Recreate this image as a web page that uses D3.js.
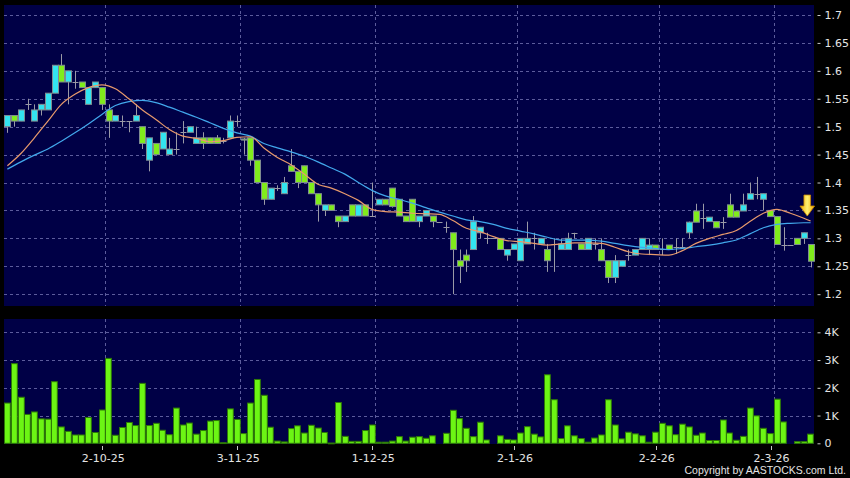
<!DOCTYPE html>
<html>
<head>
<meta charset="utf-8">
<script src="https://cdn.jsdelivr.net/npm/d3@7"></script>
<style>
  body { margin: 0; background: #000; }
  text { font-family: "DejaVu Sans", sans-serif; }
</style>
</head>
<body>
<script>
// daily candles, 10-9-25 .. 9-3-26 (120 sessions)
var opens  = [1.50,1.52,1.51,1.54,1.51,1.53,1.53,1.56,1.61,1.58, 1.58,1.58,1.54,1.57,1.57,1.53,1.51,1.51,1.51,1.51,
              1.50,1.44,1.47,1.46,1.45,1.46,1.49,1.49,1.47,1.48, 1.48,1.48,1.475,1.48,1.51,1.478,1.48,1.44,1.40,1.37,
              1.39,1.38,1.43,1.42,1.43,1.40,1.38,1.35,1.36,1.34, 1.33,1.36,1.34,1.36,1.34,1.36,1.37,1.39,1.37,1.34,
              1.37,1.33,1.34,1.34,1.33,1.32,1.31,1.26,1.27,1.28, 1.31,1.30,1.30,1.30,1.27,1.28,1.26,1.29,1.30,1.29,
              1.28,1.29,1.28,1.28,1.31,1.29,1.28,1.29,1.28,1.26, 1.23,1.25,1.27,1.27,1.28,1.28,1.288,1.281,1.288,1.285,
              1.285,1.31,1.349,1.337,1.33,1.33,1.33,1.36,1.349,1.349, 1.37,1.38,1.37,1.35,1.339,1.289,1.289,1.30,1.30,1.289];
var highs  = [1.52,1.52,1.53,1.55,1.54,1.54,1.56,1.61,1.63,1.60, 1.60,1.58,1.57,1.58,1.57,1.54,1.52,1.52,1.51,1.54,
              1.50,1.48,1.47,1.49,1.48,1.49,1.51,1.50,1.50,1.49, 1.48,1.485,1.48,1.52,1.52,1.48,1.48,1.44,1.40,1.39,
              1.395,1.41,1.46,1.42,1.43,1.40,1.38,1.36,1.36,1.34, 1.34,1.36,1.36,1.36,1.40,1.37,1.37,1.39,1.37,1.34,
              1.37,1.34,1.35,1.34,1.33,1.33,1.31,1.28,1.28,1.34, 1.32,1.31,1.30,1.30,1.28,1.29,1.30,1.33,1.31,1.30,
              1.29,1.30,1.30,1.31,1.31,1.29,1.30,1.30,1.30,1.26, 1.27,1.26,1.28,1.28,1.30,1.30,1.288,1.30,1.288,1.30,
              1.30,1.33,1.362,1.362,1.338,1.33,1.338,1.38,1.349,1.38, 1.40,1.41,1.38,1.35,1.339,1.32,1.289,1.30,1.31,1.289];
var lows   = [1.489,1.50,1.51,1.53,1.51,1.52,1.53,1.56,1.58,1.54, 1.568,1.57,1.54,1.57,1.53,1.48,1.51,1.50,1.49,1.51,
              1.46,1.42,1.45,1.46,1.45,1.45,1.47,1.49,1.47,1.46, 1.47,1.47,1.47,1.48,1.50,1.45,1.43,1.40,1.36,1.37,
              1.385,1.38,1.42,1.39,1.40,1.38,1.33,1.34,1.35,1.32, 1.33,1.34,1.34,1.34,1.34,1.36,1.36,1.355,1.34,1.33,
              1.33,1.32,1.34,1.32,1.33,1.31,1.20,1.22,1.24,1.28, 1.30,1.29,1.30,1.28,1.26,1.28,1.26,1.29,1.28,1.29,
              1.24,1.24,1.28,1.28,1.30,1.28,1.28,1.28,1.26,1.22, 1.22,1.25,1.26,1.27,1.28,1.27,1.28,1.27,1.28,1.272,
              1.281,1.30,1.329,1.317,1.33,1.319,1.317,1.338,1.338,1.349, 1.37,1.37,1.35,1.339,1.289,1.278,1.289,1.289,1.29,1.248];
var closes = [1.52,1.51,1.53,1.54,1.53,1.54,1.56,1.61,1.58,1.60, 1.58,1.57,1.57,1.58,1.54,1.51,1.52,1.51,1.51,1.52,
              1.47,1.48,1.45,1.49,1.46,1.46,1.49,1.50,1.48,1.47, 1.47,1.47,1.475,1.51,1.51,1.476,1.44,1.40,1.37,1.39,
              1.39,1.40,1.42,1.40,1.40,1.38,1.36,1.36,1.35,1.33, 1.34,1.34,1.36,1.34,1.34,1.37,1.36,1.357,1.34,1.33,
              1.33,1.34,1.35,1.33,1.33,1.32,1.28,1.25,1.26,1.33, 1.32,1.30,1.30,1.28,1.28,1.29,1.30,1.30,1.30,1.30,
              1.26,1.29,1.29,1.30,1.31,1.28,1.30,1.29,1.26,1.23, 1.26,1.26,1.27,1.28,1.30,1.288,1.28,1.281,1.28,1.285,
              1.285,1.329,1.329,1.337,1.338,1.319,1.33,1.338,1.338,1.36, 1.38,1.38,1.38,1.339,1.289,1.289,1.289,1.289,1.31,1.259];
var volumes = [1450,2870,1660,1040,1130,880,870,2220,590,430, 300,300,930,390,1200,3060,290,570,750,640,
               2160,640,720,470,310,1270,660,730,330,460, 800,820,20,1240,860,350,1450,2300,1730,580,
               80,50,530,630,370,650,550,390,10,1470, 250,70,70,460,660,40,40,80,240,80,
               220,240,180,270,0,360,1190,890,540,240, 760,120,0,270,140,120,370,600,330,230,
               2470,1570,170,630,270,170,40,190,300,1570, 660,160,400,340,270,40,400,720,630,310,
               690,590,290,370,100,100,840,370,110,250, 1270,990,540,350,1590,770,0,60,60,330];

// moving averages at every second session (plus the last one)
var maIdx = d3.range(0, 120, 2).concat([119]);
var maFast = [1.43,1.452,1.48,1.51,1.54,1.558,1.570,1.575,1.568,1.55,
              1.53,1.513,1.495,1.483,1.479,1.473,1.475,1.481,1.482,1.462,
              1.445,1.432,1.415,1.397,1.39,1.38,1.368,1.352,1.348,1.347,
              1.345,1.344,1.343,1.332,1.318,1.312,1.303,1.296,1.294,1.291,
              1.288,1.290,1.292,1.292,1.291,1.284,1.276,1.272,1.271,1.270,
              1.278,1.291,1.300,1.307,1.314,1.33,1.345,1.352,1.345,1.336,1.331];
var maSlow = [1.424,1.437,1.449,1.46,1.474,1.489,1.505,1.522,1.538,1.545,
              1.547,1.543,1.535,1.526,1.517,1.507,1.497,1.489,1.483,1.470,
              1.462,1.455,1.447,1.437,1.426,1.415,1.40,1.386,1.376,1.37,
              1.363,1.355,1.347,1.340,1.333,1.330,1.325,1.318,1.313,1.308,
              1.302,1.297,1.297,1.297,1.295,1.291,1.287,1.284,1.282,1.280,
              1.282,1.285,1.288,1.292,1.297,1.308,1.319,1.325,1.327,1.328,1.328];

// first session of each month and its label
var monthStarts = [15, 35, 55, 76, 97, 114];
var monthLabels = ['2-10-25', '3-11-25', '1-12-25', '2-1-26', '2-2-26', '2-3-26'];
var priceTicks = [1.2, 1.25, 1.3, 1.35, 1.4, 1.45, 1.5, 1.55, 1.6, 1.65, 1.7];
var priceLabels = ['1.2', '1.25', '1.3', '1.35', '1.4', '1.45', '1.5', '1.55', '1.6', '1.65', '1.7'];
var volTicks = [0, 1000, 2000, 3000, 4000];
var volLabels = ['0', '1K', '2K', '3K', '4K'];
var arrowPrice = 1.34;

var width = 850, height = 478;
var left = 4, right = 814,
    priceTop = 5, priceBottom = 306,
    volTop = 319, volBottom = 444;

var svg = d3.select('body').append('svg')
    .attr('width', width)
    .attr('height', height)
    .style('background', '#000');

var x = d3.scaleBand().domain(d3.range(opens.length)).range([left, right]);
var y = d3.scaleLinear().domain([1.2, 1.7]).range([294.2, 15]);
var yv = d3.scaleLinear().domain([0, 4000]).range([443.3, 332.3]);
var cx = function(i) { return x(i) + x.bandwidth() / 2; };

// panels
svg.append('rect').attr('x', left).attr('y', priceTop)
    .attr('width', right - left).attr('height', priceBottom - priceTop).attr('fill', '#000046');
svg.append('rect').attr('x', left).attr('y', volTop)
    .attr('width', right - left).attr('height', volBottom - volTop).attr('fill', '#000046');

// grid
var grid = svg.append('g').attr('stroke', '#5c5c9c').attr('stroke-width', 1)
    .attr('stroke-dasharray', '3,3').attr('shape-rendering', 'crispEdges');
grid.selectAll('.hp').data(priceTicks).enter().append('line')
    .attr('x1', left).attr('x2', right)
    .attr('y1', function(d) { return Math.round(y(d)) + 0.5; })
    .attr('y2', function(d) { return Math.round(y(d)) + 0.5; });
grid.selectAll('.hv').data(volTicks.slice(1)).enter().append('line')
    .attr('x1', left).attr('x2', right)
    .attr('y1', function(d) { return Math.round(yv(d)) + 0.5; })
    .attr('y2', function(d) { return Math.round(yv(d)) + 0.5; });
[[priceTop, priceBottom], [volTop, volBottom]].forEach(function(p) {
    grid.selectAll(null).data(monthStarts).enter().append('line')
        .attr('x1', function(d) { return Math.round(x(d)) + 0.5; })
        .attr('x2', function(d) { return Math.round(x(d)) + 0.5; })
        .attr('y1', p[0]).attr('y2', p[1]);
});

// candles
var candles = svg.append('g');
candles.selectAll('.wick').data(d3.range(opens.length)).enter().append('line')
    .attr('x1', function(i) { return Math.round(cx(i)) + 0.5; })
    .attr('x2', function(i) { return Math.round(cx(i)) + 0.5; })
    .attr('y1', function(i) { return y(highs[i]); })
    .attr('y2', function(i) { return y(lows[i]); })
    .attr('stroke', '#9a9aa6').attr('stroke-width', 1);

var bodies = d3.range(opens.length).filter(function(i) { return opens[i] !== closes[i]; });
var dojis = d3.range(opens.length).filter(function(i) { return opens[i] === closes[i]; });

candles.selectAll('.body').data(bodies).enter().append('rect')
    .attr('x', function(i) { return Math.round(cx(i)) - 2.5; })
    .attr('width', 6)
    .attr('y', function(i) { return y(Math.max(opens[i], closes[i])); })
    .attr('height', function(i) { return Math.max(1, Math.abs(y(opens[i]) - y(closes[i]))); })
    .attr('fill', function(i) { return closes[i] > opens[i] ? '#33e4f0' : '#80ec1c'; })
    .attr('stroke', '#7f8c90').attr('stroke-width', 1);

candles.selectAll('.doji').data(dojis).enter().append('line')
    .attr('x1', function(i) { return Math.round(cx(i)) - 2.5; })
    .attr('x2', function(i) { return Math.round(cx(i)) + 3.5; })
    .attr('y1', function(i) { return Math.round(y(opens[i])) + 0.5; })
    .attr('y2', function(i) { return Math.round(y(opens[i])) + 0.5; })
    .attr('stroke', '#9a9aa6').attr('stroke-width', 1);

// moving averages
var maLine = function(vals) {
    return d3.line()
        .x(function(d, k) { return cx(maIdx[k]); })
        .y(function(d) { return y(d); })
        .curve(d3.curveMonotoneX)(vals);
};
svg.append('path').attr('d', maLine(maSlow)).attr('fill', 'none')
    .attr('stroke', '#42a8ec').attr('stroke-width', 1.2);
svg.append('path').attr('d', maLine(maFast)).attr('fill', 'none')
    .attr('stroke', '#e89a6c').attr('stroke-width', 1.2);

// arrow marker over the last sessions
var defs = svg.append('defs');
var grad = defs.append('linearGradient').attr('id', 'arrowGrad')
    .attr('x1', 0).attr('x2', 1).attr('y1', 0).attr('y2', 0);
grad.append('stop').attr('offset', '0%').attr('stop-color', '#f0a800');
grad.append('stop').attr('offset', '50%').attr('stop-color', '#fff070');
grad.append('stop').attr('offset', '100%').attr('stop-color', '#f0a800');
var ax = (cx(118) + cx(119)) / 2, ay = y(arrowPrice);
svg.append('path')
    .attr('d', 'M' + (ax - 3.3) + ',' + (ay - 21) + 'L' + (ax + 3.3) + ',' + (ay - 21) +
               'L' + (ax + 3.3) + ',' + (ay - 10) + 'L' + (ax + 7.3) + ',' + (ay - 10) +
               'L' + ax + ',' + ay + 'L' + (ax - 7.3) + ',' + (ay - 10) +
               'L' + (ax - 3.3) + ',' + (ay - 10) + 'Z')
    .attr('fill', 'url(#arrowGrad)').attr('stroke', '#c88a00').attr('stroke-width', 0.8);

// volume bars
svg.append('g').selectAll('rect').data(d3.range(volumes.length).filter(function(i) { return volumes[i] > 0; }))
    .enter().append('rect')
    .attr('x', function(i) { return Math.round(x(i)) + 0.5; })
    .attr('width', 5.8)
    .attr('y', function(i) { return yv(volumes[i]); })
    .attr('height', function(i) { return Math.max(0.8, yv(0) - yv(volumes[i])); })
    .attr('fill', '#6cf514').attr('stroke', '#2e7a06').attr('stroke-width', 1);

// right axes
var priceAxis = d3.axisRight(y).tickValues(priceTicks).tickSize(3).tickPadding(4)
    .tickFormat(function(d, k) { return priceLabels[k]; });
var gp = svg.append('g').attr('transform', 'translate(817.5,0)').call(priceAxis);

var volAxis = d3.axisRight(yv).tickValues(volTicks).tickSize(3).tickPadding(4)
    .tickFormat(function(d, k) { return volLabels[k]; });
var gv = svg.append('g').attr('transform', 'translate(817.5,0)').call(volAxis);

[gp, gv].forEach(function(g) {
    g.select('.domain').remove();
    g.selectAll('line').attr('stroke', '#c8c8c8');
    g.selectAll('text').attr('fill', '#e4e4e4').style('font-size', '11px')
        .style('font-family', '"DejaVu Sans", sans-serif');
});

// date axis
var dates = svg.append('g');
dates.selectAll('line').data(monthStarts).enter().append('line')
    .attr('x1', function(d) { return Math.round(x(d)) - 2.5; })
    .attr('x2', function(d) { return Math.round(x(d)) - 2.5; })
    .attr('y1', 446).attr('y2', 450)
    .attr('stroke', '#c8c8c8');
dates.selectAll('text').data(monthStarts).enter().append('text')
    .attr('x', function(d) { return x(d) - 2; })
    .attr('y', 462)
    .attr('text-anchor', 'middle')
    .attr('fill', '#e4e4e4')
    .style('font-size', '11px')
    .text(function(d, k) { return monthLabels[k]; });

svg.append('text')
    .attr('x', 846).attr('y', 473.5)
    .attr('text-anchor', 'end')
    .attr('fill', '#e4e4e4')
    .style('font-family', '"Liberation Sans", Arial, sans-serif')
    .style('font-size', '10.5px')
    .text('Copyright by AASTOCKS.com Ltd.');
</script>
</body>
</html>
